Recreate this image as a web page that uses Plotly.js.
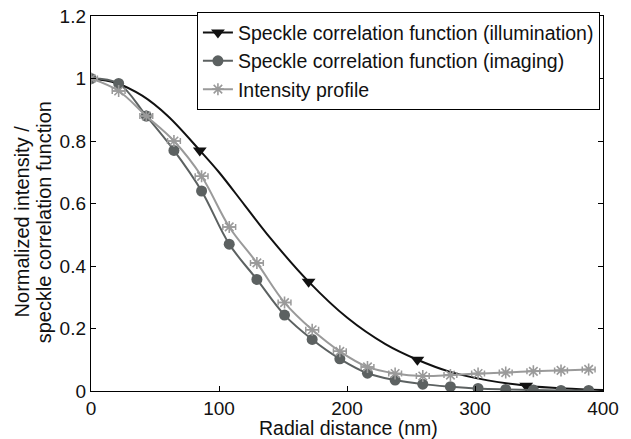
<!DOCTYPE html>
<html>
<head>
<meta charset="utf-8">
<script src="https://cdn.plot.ly/plotly-3.0.1.min.js"></script>
<style>html,body{margin:0;padding:0;background:#fff;}#chart{width:631px;height:439px;}</style>
</head>
<body>
<div id="chart"></div>
<script>
// Speckle correlation function (illumination): smooth curve readings
const illumX = [0, 20, 40, 60, 85, 100, 120, 140, 170, 200, 230, 255, 280, 310, 340, 370, 400];
const illumY = [1.0, 0.985, 0.945, 0.88, 0.77, 0.70, 0.595, 0.49, 0.35, 0.235, 0.15, 0.10, 0.062, 0.034, 0.017, 0.008, 0.003];
// Triangle markers on the illumination curve
const illumMarkX = [85, 170, 255, 340];
const illumMarkY = [0.77, 0.35, 0.10, 0.017];

// Speckle correlation function (imaging)
const imagX = [0, 21.6, 43.2, 64.8, 86.4, 108, 129.6, 151.2, 172.8, 194.4, 216, 237.6, 259.2, 280.8, 302.4, 324, 345.6, 367.2, 388.8];
const imagY = [1.0, 0.984, 0.88, 0.77, 0.64, 0.47, 0.357, 0.243, 0.165, 0.103, 0.057, 0.035, 0.022, 0.014, 0.008, 0.005, 0.003, 0.002, 0.002];

// Intensity profile
const intX = [0, 21.6, 43.2, 64.8, 86.4, 108, 129.6, 151.2, 172.8, 194.4, 216, 237.6, 259.2, 280.8, 302.4, 324, 345.6, 367.2, 388.8];
const intY = [1.0, 0.96, 0.88, 0.80, 0.687, 0.525, 0.41, 0.283, 0.196, 0.127, 0.077, 0.056, 0.048, 0.051, 0.056, 0.059, 0.063, 0.066, 0.069];
const intErrX = [5, 5, 5, 5, 5, 5, 5, 5, 5, 5, 5, 5, 5, 5, 5, 5, 5, 5, 5];

const names = [
  'Speckle correlation function (illumination)',
  'Speckle correlation function (imaging)',
  'Intensity profile'
];
const xTitle = 'Radial distance (nm)';
const yTitleLines = ['Normalized intensity /', 'speckle correlation function'];
const xTicks = [0, 100, 200, 300, 400];
const yTicks = [0, 0.2, 0.4, 0.6, 0.8, 1, 1.2];

const cIllum = '#111111', cImag = '#5c6161', cInt = '#9a9a9a';
const FONT = 'Liberation Sans, Arial, Helvetica, sans-serif';

const traces = [
  {x: illumX, y: illumY, mode: 'lines', line: {color: cIllum, width: 2, shape: 'spline'},
   showlegend: false, hoverinfo: 'skip'},
  {x: illumMarkX, y: illumMarkY, mode: 'markers', showlegend: false,
   marker: {symbol: 'triangle-down', size: 12, color: cIllum}},
  {x: [null], y: [null], mode: 'lines+markers', name: names[0],
   line: {color: cIllum, width: 2}, marker: {symbol: 'triangle-down', size: 12, color: cIllum}},
  {x: imagX, y: imagY, mode: 'lines+markers', name: names[1],
   line: {color: cImag, width: 2, shape: 'spline'},
   marker: {symbol: 'circle', size: 11, color: cImag}},
  {x: intX, y: intY, mode: 'lines+markers', name: names[2],
   line: {color: cInt, width: 2, shape: 'spline'},
   marker: {symbol: 'asterisk-open', size: 10, color: cInt, line: {color: cInt, width: 1.6}},
   error_x: {type: 'data', array: intErrX, visible: true, color: cInt, thickness: 1.5, width: 3}}
];

const axisCommon = {
  showgrid: false, zeroline: false, showline: true, linecolor: '#000', linewidth: 1.2,
  mirror: 'ticks', ticks: 'inside', ticklen: 5, tickcolor: '#000', tickwidth: 1,
  tickfont: {family: FONT, size: 19, color: '#111'}
};

const layout = {
  width: 631, height: 439,
  margin: {l: 91, r: 28, t: 12, b: 48},
  paper_bgcolor: '#fff', plot_bgcolor: '#fff',
  font: {family: FONT, color: '#111'},
  xaxis: Object.assign({}, axisCommon, {
    range: [0, 400], tickvals: xTicks, ticktext: xTicks.map(String)
  }),
  yaxis: Object.assign({}, axisCommon, {
    range: [0, 1.2], tickvals: yTicks, ticktext: yTicks.map(String)
  }),
  annotations: [
    {text: xTitle, xref: 'paper', yref: 'paper', x: 0.502, y: -0.098,
     xanchor: 'center', yanchor: 'middle', showarrow: false, font: {family: FONT, size: 19.5, color: '#111'}},
    {text: yTitleLines[0], xref: 'paper', yref: 'paper', x: -0.1357, y: 0.451, textangle: -90,
     xanchor: 'center', yanchor: 'middle', showarrow: false, font: {family: FONT, size: 20, color: '#111'}},
    {text: yTitleLines[1], xref: 'paper', yref: 'paper', x: -0.0928, y: 0.451, textangle: -90,
     xanchor: 'center', yanchor: 'middle', showarrow: false, font: {family: FONT, size: 20, color: '#111'}}
  ],
  legend: {
    x: 0.994, y: 1.01, xanchor: 'right', yanchor: 'top',
    bordercolor: '#000', borderwidth: 1, bgcolor: '#fff', itemwidth: 30,
    font: {family: FONT, size: 19.5, color: '#111'}, tracegroupgap: 0
  },
  showlegend: true
};

Plotly.newPlot('chart', traces, layout, {displayModeBar: false, staticPlot: true});
</script>
</body>
</html>
